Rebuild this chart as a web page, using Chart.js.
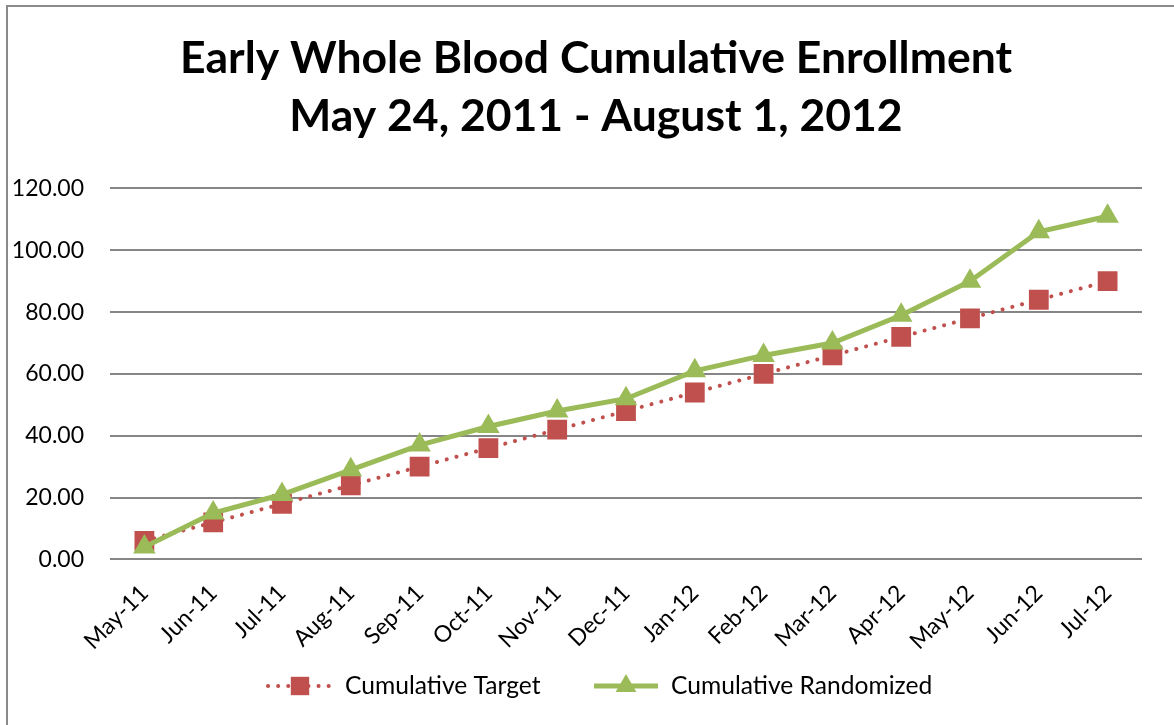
<!DOCTYPE html>
<html>
<head>
<meta charset="utf-8">
<script src="https://cdn.jsdelivr.net/npm/chart.js@4"></script>
<style>
  html,body{margin:0;padding:0;background:#fff;overflow:hidden;}
  #wrap{position:relative;width:1174px;height:725px;}
  #frame{position:absolute;left:6px;top:5px;width:1200px;height:800px;border:2px solid #8a8a8a;box-sizing:border-box;}
  canvas{position:absolute;left:0;top:0;}
</style>
</head>
<body>
<div id="wrap">
  <div id="frame"></div>
  <canvas id="c" width="1174" height="725"></canvas>
</div>
<script>
const months = ['May-11','Jun-11','Jul-11','Aug-11','Sep-11','Oct-11','Nov-11','Dec-11','Jan-12','Feb-12','Mar-12','Apr-12','May-12','Jun-12','Jul-12'];
const cumulativeTarget = [6,12,18,24,30,36,42,48,54,60,66,72,78,84,90];
const cumulativeRandomized = [4,15,21,29,37,43,48,52,61,66,70,79,90,106,111];
const titleLines = ['Early Whole Blood Cumulative Enrollment','May 24, 2011 - August 1, 2012'];

const RED = '#C0504D', GREEN = '#9BBB59';
const FONT = 'Lato, "Open Sans", sans-serif';

// title sits a bit right of the canvas centre in the original
const shiftTitle = {
  id:'shiftTitle',
  afterLayout(chart){ if(chart.titleBlock){ chart.titleBlock.left = 50; } }
};

// legend drawn as line + marker, like the office chart
const lineLegend = {
  id:'lineLegend',
  afterDraw(chart){
    const ctx = chart.ctx;
    const y = 686;
    const items = [
      {ds:chart.data.datasets[0], x:268},
      {ds:chart.data.datasets[1], x:594}
    ];
    ctx.save();
    for(const it of items){
      const d = it.ds;
      ctx.beginPath();
      ctx.strokeStyle = d.borderColor;
      ctx.lineWidth = d.borderWidth;
      ctx.lineCap = d.borderCapStyle || 'butt';
      ctx.setLineDash(d.borderDash || []);
      ctx.moveTo(it.x, y);
      ctx.lineTo(it.x + 64, y);
      ctx.stroke();
      ctx.setLineDash([]);
      ctx.fillStyle = d.pointBackgroundColor;
      ctx.strokeStyle = d.pointBorderColor;
      Chart.helpers.drawPoint(ctx, {pointStyle:d.pointStyle, radius:d.legendRadius, borderWidth:0, rotation:0}, it.x + 32, y);
      ctx.fillStyle = '#000';
      ctx.font = '24.6px ' + FONT;
      ctx.textBaseline = 'middle';
      ctx.textAlign = 'left';
      ctx.fillText(d.label, it.x + 77, y);
    }
    ctx.restore();
  }
};

new Chart(document.getElementById('c'), {
  type:'line',
  data:{
    labels:months,
    datasets:[
      {
        label:'Cumulative Target',
        data:cumulativeTarget,
        borderColor:RED,
        borderWidth:4,
        borderDash:[0.1,10],
        borderCapStyle:'round',
        pointStyle:'rect',
        pointRadius:14,
        legendRadius:13,
        pointBackgroundColor:RED,
        pointBorderColor:RED,
        pointBorderWidth:0,
        tension:0,
        order:1
      },
      {
        label:'Cumulative Randomized',
        data:cumulativeRandomized,
        borderColor:GREEN,
        borderWidth:5,
        pointStyle:'triangle',
        pointRadius:13,
        legendRadius:12,
        pointBackgroundColor:GREEN,
        pointBorderColor:GREEN,
        pointBorderWidth:0,
        tension:0,
        order:0
      }
    ]
  },
  options:{
    responsive:false,
    animation:false,
    layout:{padding:{left:0,right:32,top:0,bottom:50}},
    plugins:{
      legend:{display:false},
      tooltip:{enabled:false},
      title:{
        display:true,
        text:titleLines,
        color:'#000',
        font:{family:FONT,size:44.5,weight:'bold',lineHeight:1.32},
        padding:{top:29,bottom:42}
      }
    },
    scales:{
      x:{
        offset:true,
        grid:{display:false,drawTicks:false},
        border:{display:false},
        ticks:{color:'#000',font:{family:FONT,size:23},minRotation:45,maxRotation:45,padding:20,autoSkip:false}
      },
      y:{
        min:0,max:120,
        afterFit(s){ s.width = 110; },
        grid:{color:'#868686',lineWidth:2,drawTicks:false},
        border:{display:false},
        ticks:{stepSize:20,color:'#000',font:{family:FONT,size:23},padding:26,callback:v=>v.toFixed(2)}
      }
    }
  },
  plugins:[shiftTitle, lineLegend]
});
</script>
</body>
</html>
